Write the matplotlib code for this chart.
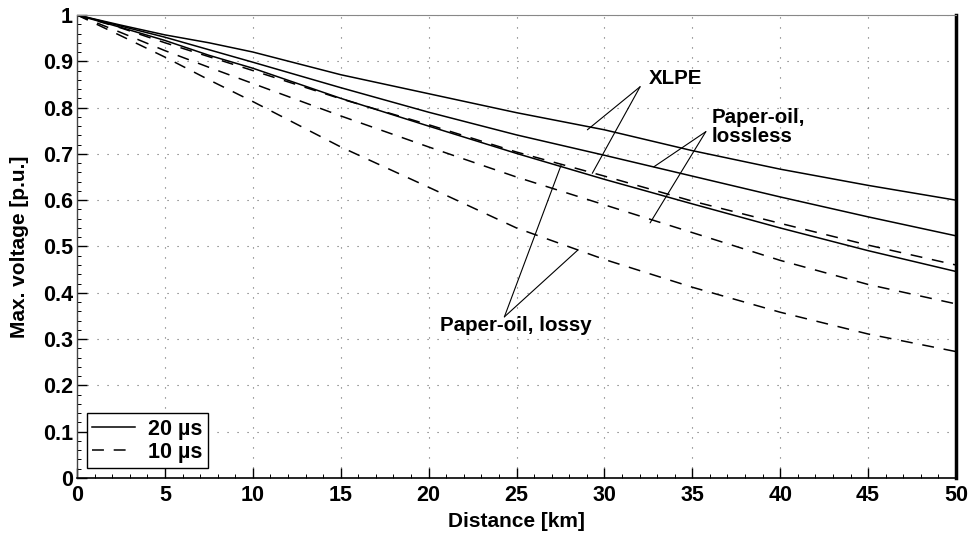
import numpy as np
import matplotlib
matplotlib.use('Agg')
import matplotlib.pyplot as plt
from matplotlib.ticker import MultipleLocator

# Data (distance in km, max voltage in p.u.)
distance = [0, 2.5, 5, 7.5, 10, 15, 20, 25, 30, 35, 40, 45, 50]

xlpe_20 = [1, 0.978, 0.957, 0.94, 0.92, 0.871, 0.83, 0.789, 0.752, 0.707, 0.667, 0.632, 0.600]
lossless_20 = [1, 0.976, 0.952, 0.925, 0.898, 0.843, 0.79, 0.741, 0.697, 0.652, 0.607, 0.564, 0.523]
lossy_20 = [1, 0.973, 0.945, 0.913, 0.885, 0.820, 0.760, 0.701, 0.645, 0.592, 0.540, 0.491, 0.446]

xlpe_10 = [1, 0.972, 0.94, 0.91, 0.88, 0.819, 0.763, 0.704, 0.652, 0.598, 0.550, 0.503, 0.460]
lossless_10 = [1, 0.962, 0.923, 0.887, 0.852, 0.782, 0.715, 0.650, 0.590, 0.530, 0.470, 0.418, 0.376]
lossy_10 = [1, 0.955, 0.909, 0.86, 0.813, 0.715, 0.628, 0.540, 0.472, 0.412, 0.358, 0.311, 0.273]

legend_labels = ['20 \u00b5s', '10 \u00b5s']
x_ticks = [0, 5, 10, 15, 20, 25, 30, 35, 40, 45, 50]
y_ticks = [0, 0.1, 0.2, 0.3, 0.4, 0.5, 0.6, 0.7, 0.8, 0.9, 1]
y_ticklabels = ['0', '0.1', '0.2', '0.3', '0.4', '0.5', '0.6', '0.7', '0.8', '0.9', '1']

plt.rcParams['font.family'] = ['Liberation Sans', 'DejaVu Sans']
plt.rcParams['font.weight'] = 'bold'

fig = plt.figure(figsize=(9.74, 5.37), dpi=100)
ax = fig.add_axes([0.0791, 0.1099, 0.9024, 0.8622])

lw = 1.1
dash = (7.8, 6.4)
l20, = ax.plot(distance, xlpe_20, color='black', lw=lw)
ax.plot(distance, lossless_20, color='black', lw=lw)
ax.plot(distance, lossy_20, color='black', lw=lw)
l10, = ax.plot(distance, xlpe_10, color='black', lw=lw, dashes=dash)
ax.plot(distance, lossless_10, color='black', lw=lw, dashes=dash)
ax.plot(distance, lossy_10, color='black', lw=lw, dashes=dash)

ax.set_xlim(0, 50)
ax.set_ylim(0, 1)
ax.set_xticks(x_ticks)
ax.set_xticklabels([str(v) for v in x_ticks])
ax.set_yticks(y_ticks)
ax.set_yticklabels(y_ticklabels)
ax.xaxis.set_minor_locator(MultipleLocator(1))
ax.yaxis.set_minor_locator(MultipleLocator(0.02))
ax.tick_params(which='major', direction='in', length=7, width=1, labelsize=15.5)
ax.tick_params(axis='x', which='major', pad=5)
ax.tick_params(axis='y', which='major', pad=3)
ax.tick_params(which='minor', direction='in', length=3, width=0.7)

ax.grid(True, which='major', color='#666666', linestyle=(0, (1, 8)), lw=0.8)

ax.spines['right'].set_linewidth(2.5)
ax.spines['top'].set_color('#888888')
ax.spines['top'].set_linewidth(0.8)
ax.spines['left'].set_color('#444444')
ax.spines['left'].set_linewidth(1.0)
ax.spines['bottom'].set_linewidth(1.2)

ax.set_xlabel('Distance [km]', fontsize=15, fontweight='bold')
ax.set_ylabel('Max. voltage [p.u.]', fontsize=15, fontweight='bold')
ax.xaxis.set_label_coords(0.5, -0.073)
ax.yaxis.set_label_coords(-0.055, 0.5)

# annotations
arrow = dict(arrowstyle='-', lw=0.8, color='black', shrinkA=0, shrinkB=0)
fs = 14.8
ax.text(32.54, 0.863, 'XLPE', fontsize=fs, fontweight='bold', va='center', ha='left')
ax.annotate('', xy=(29.03, 0.752), xytext=(32.03, 0.845), arrowprops=arrow)
ax.annotate('', xy=(29.31, 0.658), xytext=(32.03, 0.845), arrowprops=arrow)

ax.text(36.08, 0.759, 'Paper-oil,\nlossless', fontsize=fs, fontweight='bold',
        va='center', ha='left', linespacing=1.0)
ax.annotate('', xy=(32.81, 0.672), xytext=(35.77, 0.748), arrowprops=arrow)
ax.annotate('', xy=(32.6, 0.551), xytext=(35.77, 0.748), arrowprops=arrow)

ax.text(20.67, 0.330, 'Paper-oil, lossy', fontsize=fs, fontweight='bold', va='center', ha='left')
ax.annotate('', xy=(27.54, 0.676), xytext=(24.31, 0.348), arrowprops=arrow)
ax.annotate('', xy=(28.48, 0.492), xytext=(24.31, 0.348), arrowprops=arrow)

leg = ax.legend([l20, l10], legend_labels, loc='lower left', bbox_to_anchor=(0.011, 0.021),
                borderaxespad=0, fancybox=False, edgecolor='black', framealpha=1,
                prop={'size': 15.5, 'weight': 'bold'}, handlelength=2.0, handletextpad=0.6,
                labelspacing=0.1, borderpad=0.25)
leg.get_frame().set_linewidth(1.0)

fig.savefig('out.png', dpi=100)
